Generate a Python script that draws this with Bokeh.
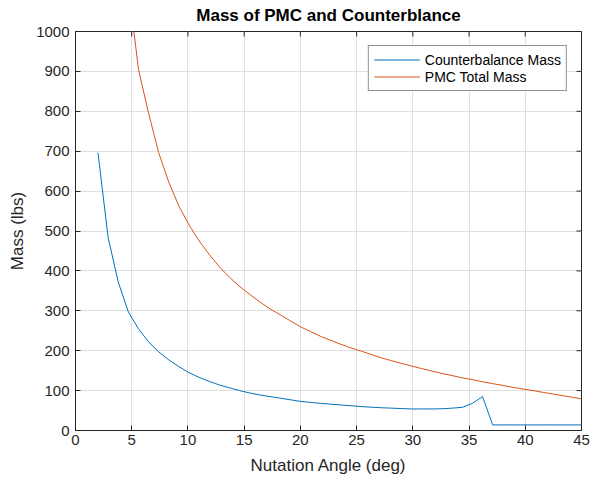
import math
from bokeh.plotting import figure
from bokeh.models import Range1d, FixedTicker, Legend, LegendItem, Title
from bokeh.embed import file_html
from bokeh.resources import INLINE

nan = float("nan")

# Nutation angle samples (deg)
angle_deg = [2.0, 2.9, 3.8, 4.7, 5.6, 6.5, 7.4, 8.3, 9.2, 10.1,
             11.0, 11.9, 12.8, 13.7, 14.6, 15.5, 16.4, 17.3, 18.2, 19.1,
             20.0, 20.9, 21.8, 22.7, 23.6, 24.5, 25.4, 26.3, 27.2, 28.1,
             29.0, 29.9, 30.8, 31.7, 32.6, 33.5, 34.4, 35.3, 36.2, 37.1,
             38.0, 38.9, 39.8, 40.7, 41.6, 42.5, 43.4, 44.3, 45.2]

counterbalance_mass = [696, 484, 372, 297, 255, 222, 197, 177, 160, 145,
                       133, 123, 114, 107, 100, 94, 89, 85, 81, 77,
                       73, 70.5, 68, 66, 64, 62, 60, 58.5, 57, 56,
                       55, 54, 54, 54, 54.5, 56, 58, 68, 85, 14,
                       14, 14, 14, 14, 14, 14, 14, 14, 14]

pmc_total_mass = [nan, nan, nan, 1115, 905, 795, 696, 622, 562, 515,
                  475, 441, 410, 384, 361, 341, 322, 305, 290, 275,
                  260, 248, 236, 226, 216, 207, 199, 190.5, 182, 175,
                  168, 161.5, 155, 149, 143, 137.6, 132, 127.5, 122, 117.5,
                  113, 108, 104, 100, 95.5, 91.3, 87, 82.6, 78.5]

x_ticks = [0, 5, 10, 15, 20, 25, 30, 35, 40, 45]
y_ticks = [0, 100, 200, 300, 400, 500, 600, 700, 800, 900, 1000]

X_MIN, X_MAX = 0, 45
Y_MIN, Y_MAX = 0, 1000

FONT = "Liberation Sans"
DARK = "#262626"
GRID = "#DFDFDF"

p = figure(width=596, height=480, output_backend="svg", toolbar_location=None,
           x_range=Range1d(X_MIN, X_MAX), y_range=Range1d(Y_MIN, Y_MAX),
           min_border_left=75, min_border_right=15, min_border_top=31, min_border_bottom=50)
p.title = Title(text="Mass of PMC and Counterblance", align="center",
                vertical_align="top",
                text_font=FONT, text_font_size="17px", text_font_style="bold",
                text_color="#000000", standoff=9)

l1 = p.line(angle_deg, counterbalance_mass, line_color="#0072BD", line_width=1)
l2 = p.line(angle_deg, pmc_total_mass, line_color="#D95319", line_width=1)

for ax, ticks in ((p.xaxis[0], x_ticks), (p.yaxis[0], y_ticks)):
    ax.ticker = FixedTicker(ticks=ticks)
    ax.major_tick_in = 5
    ax.major_tick_out = 0
    ax.minor_tick_line_color = None
    ax.axis_line_color = DARK
    ax.major_tick_line_color = DARK
    ax.major_label_text_font = FONT
    ax.major_label_text_font_size = "15px"
    ax.major_label_text_color = DARK
    ax.axis_label_text_font = FONT
    ax.axis_label_text_font_size = "17px"
    ax.axis_label_text_font_style = "normal"
    ax.axis_label_text_color = DARK

p.xaxis.axis_label = "Nutation Angle (deg)"
p.yaxis.axis_label = "Mass (lbs)"
p.xaxis.major_label_standoff = 4
p.yaxis.major_label_standoff = 6
p.xaxis.axis_label_standoff = 8
p.yaxis.axis_label_standoff = 6

# inward ticks on the top and right edges (box on)
p.ray(x=x_ticks, y=[Y_MAX] * len(x_ticks), length=5, length_units="screen",
      angle=-math.pi / 2, line_color=DARK, line_width=1)
p.ray(x=[X_MAX] * len(y_ticks), y=y_ticks, length=5, length_units="screen",
      angle=math.pi, line_color=DARK, line_width=1)

p.xgrid.ticker = FixedTicker(ticks=x_ticks)
p.ygrid.ticker = FixedTicker(ticks=y_ticks)
p.xgrid.grid_line_color = GRID
p.ygrid.grid_line_color = GRID
p.outline_line_color = DARK

legend = Legend(items=[LegendItem(label="Counterbalance Mass", renderers=[l1]),
                       LegendItem(label="PMC Total Mass", renderers=[l2])],
                location="top_right", margin=14, padding=5, spacing=0,
                glyph_width=46, glyph_height=17, label_height=17, label_standoff=5,
                label_text_font=FONT, label_text_font_size="14px", label_text_color="#000000",
                border_line_color=DARK, border_line_width=1,
                background_fill_color="white", background_fill_alpha=1)
p.add_layout(legend)

open("out.html", "w").write(file_html(p, INLINE))
